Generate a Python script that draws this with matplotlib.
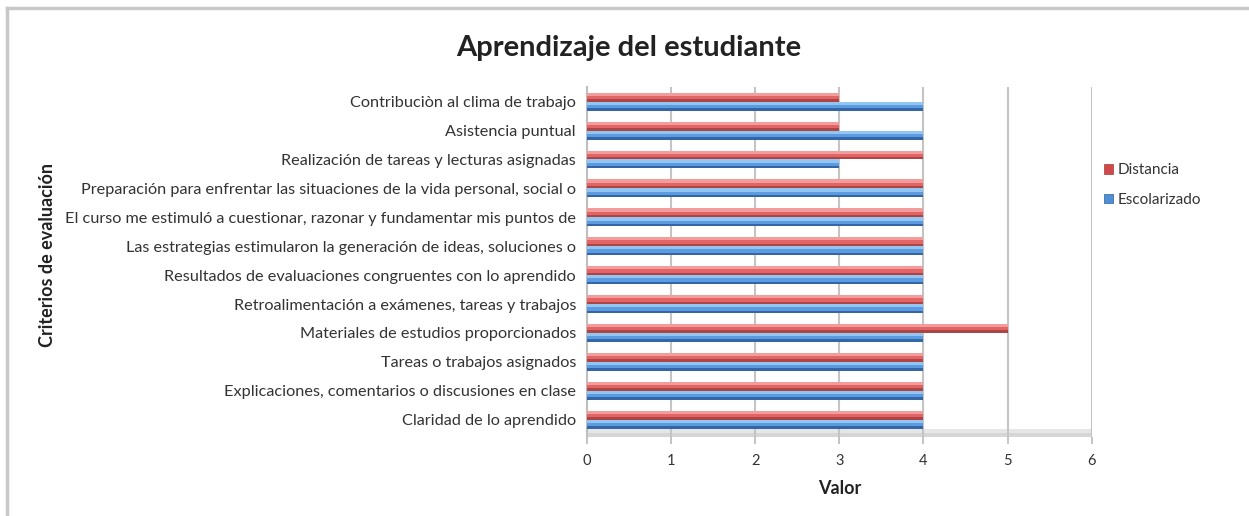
import matplotlib.pyplot as plt
from matplotlib.patches import Patch
from matplotlib.lines import Line2D
import numpy as np

plt.rcParams['font.family'] = ['Lato', 'DejaVu Sans']

criterios = [
    "Claridad de lo aprendido",
    "Explicaciones, comentarios o discusiones en clase",
    "Tareas o trabajos asignados",
    "Materiales de estudios proporcionados",
    "Retroalimentación a exámenes, tareas y trabajos",
    "Resultados de evaluaciones congruentes con lo aprendido",
    "Las estrategias estimularon la generación de ideas, soluciones o",
    "El curso me estimuló a cuestionar, razonar y fundamentar mis puntos de",
    "Preparación para enfrentar las situaciones de la vida personal, social o",
    "Realización de tareas y lecturas asignadas",
    "Asistencia puntual",
    "Contribuciòn al clima de trabajo",
]
escolarizado = [4, 4, 4, 4, 4, 4, 4, 4, 4, 3, 4, 4]
distancia = [4, 4, 4, 5, 4, 4, 4, 4, 4, 4, 3, 3]
ticks_x = [0, 1, 2, 3, 4, 5, 6]

fig = plt.figure(figsize=(12.49, 5.16), dpi=100)
ax = fig.add_axes([0.470, 0.153, 0.404, 0.678])

y = np.arange(len(criterios))
h = 0.31

# floor of the 3D chart
ax.axhspan(-0.6, -0.32, color='#e6e6e6', zorder=0.5, lw=0)
ax.axhspan(-0.6, -0.45, color='#d6d6d6', zorder=0.6, lw=0)

def cyl_bar(ypos, vals, base, light, dark):
    ax.barh(ypos, vals, height=h, align='edge', color=base, zorder=3, lw=0)
    ax.barh(ypos, vals, height=h * 0.28, align='edge', color=dark, zorder=4, lw=0)
    ax.barh(ypos + h * 0.64, vals, height=h * 0.36, align='edge', color=light, zorder=4, lw=0)

cyl_bar(y, distancia, '#e26464', '#f29c9c', '#ad4545')
cyl_bar(y - h, escolarizado, '#5b9be0', '#92c5f1', '#3465a6')

ax.set_xlim(0, 6)
ax.set_ylim(-0.6, len(criterios) - 0.5)
ax.set_xticks(ticks_x)
ax.set_yticks(y)
ax.set_yticklabels(criterios, fontsize=11.7, color='#333333')
ax.tick_params(axis='y', length=0, pad=8)
ax.tick_params(axis='x', length=5, width=1.3, color='#bfbfbf', labelsize=10.5,
               labelcolor='#333333', pad=7)
ax.grid(axis='x', color='#c4c4c4', lw=1.5, zorder=1)
for s in ['top', 'bottom', 'right']:
    ax.spines[s].set_visible(False)
ax.spines['left'].set_color('#bfbfbf')
ax.spines['left'].set_linewidth(1.5)

ax.set_xlabel('Valor', fontsize=13, fontweight='bold', color='#222222', labelpad=9)
fig.text(0.038, 0.505, 'Criterios de evaluación', rotation=90, fontsize=13,
         fontweight='bold', color='#222222', ha='center', va='center')
fig.text(0.503, 0.907, 'Aprendizaje del estudiante', fontsize=21,
         fontweight='bold', color='#222222', ha='center', va='center')

handles = [Patch(facecolor='#d04848', edgecolor='#a83a3a', lw=0.5),
           Patch(facecolor='#4f8fd6', edgecolor='#2c5f99', lw=0.5)]
fig.legend(handles, ['Distancia', 'Escolarizado'], loc='upper left',
           bbox_to_anchor=(0.873, 0.71), frameon=False, fontsize=11,
           handlelength=0.55, handleheight=0.55, handletextpad=0.35,
           labelspacing=1.0, labelcolor='#333333')

# outer chart border (left and top only visible)
fig.add_artist(Line2D([0.006, 0.006], [0.0, 0.985], color='#c8c8c8', lw=2.5))
fig.add_artist(Line2D([0.006, 1.0], [0.985, 0.985], color='#c8c8c8', lw=2.5))

fig.savefig('out.png', dpi=100)
